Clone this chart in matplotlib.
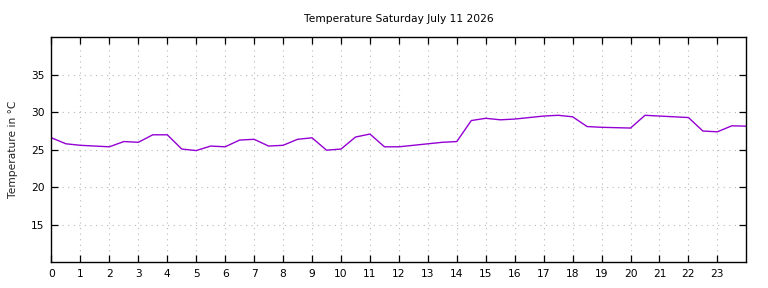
import matplotlib
matplotlib.use("Agg")
import matplotlib.pyplot as plt

hours = [0, 0.5, 1, 2, 2.5, 3, 3.5, 4, 4.5, 5, 5.5, 6, 6.5, 7, 7.5, 8, 8.5, 9,
         9.5, 10, 10.5, 11, 11.5, 12, 13, 13.5, 14, 14.5, 15, 15.5, 16, 17, 17.5,
         18, 18.5, 19, 20, 20.5, 21, 22, 22.5, 23, 23.5, 24]
temps = [26.6, 25.8, 25.6, 25.4, 26.1, 26.0, 27.0, 27.0, 25.1, 24.9, 25.5, 25.4,
         26.3, 26.4, 25.5, 25.6, 26.4, 26.6, 24.95, 25.1, 26.7, 27.1, 25.4, 25.4,
         25.8, 26.0, 26.1, 28.9, 29.2, 29.0, 29.1, 29.5, 29.6, 29.4, 28.1, 28.0,
         27.9, 29.6, 29.5, 29.3, 27.5, 27.4, 28.2, 28.15]
xticks = list(range(0, 24))
yticks = [15, 20, 25, 30, 35]
title = "Temperature Saturday July 11 2026"
ylabel = "Temperature in °C"

plt.rcParams['font.family'] = ['DejaVu Sans']
fig = plt.figure(figsize=(7.68, 2.88), dpi=100)
ax = fig.add_axes([0.067, 0.0892, 0.9048, 0.7813])
ax.plot(hours, temps, color='#9400d3', lw=1.0)
ax.set_xlim(0, 24)
ax.set_ylim(10, 40)
ax.set_xticks(xticks)
ax.set_yticks(yticks)
ax.tick_params(direction='in', length=5, width=0.9, top=True, right=True,
               labelsize=7.7, colors='black', pad=5)
ax.grid(True, color='#b8b8b8', linestyle=(0, (1, 4)), linewidth=0.8)
for s in ax.spines.values():
    s.set_linewidth(1.0)
ax.set_title(title, fontsize=7.7, pad=11)
ax.set_ylabel(ylabel, fontsize=7.7, labelpad=9, color='#202020')
fig.savefig("out.png", dpi=100)
